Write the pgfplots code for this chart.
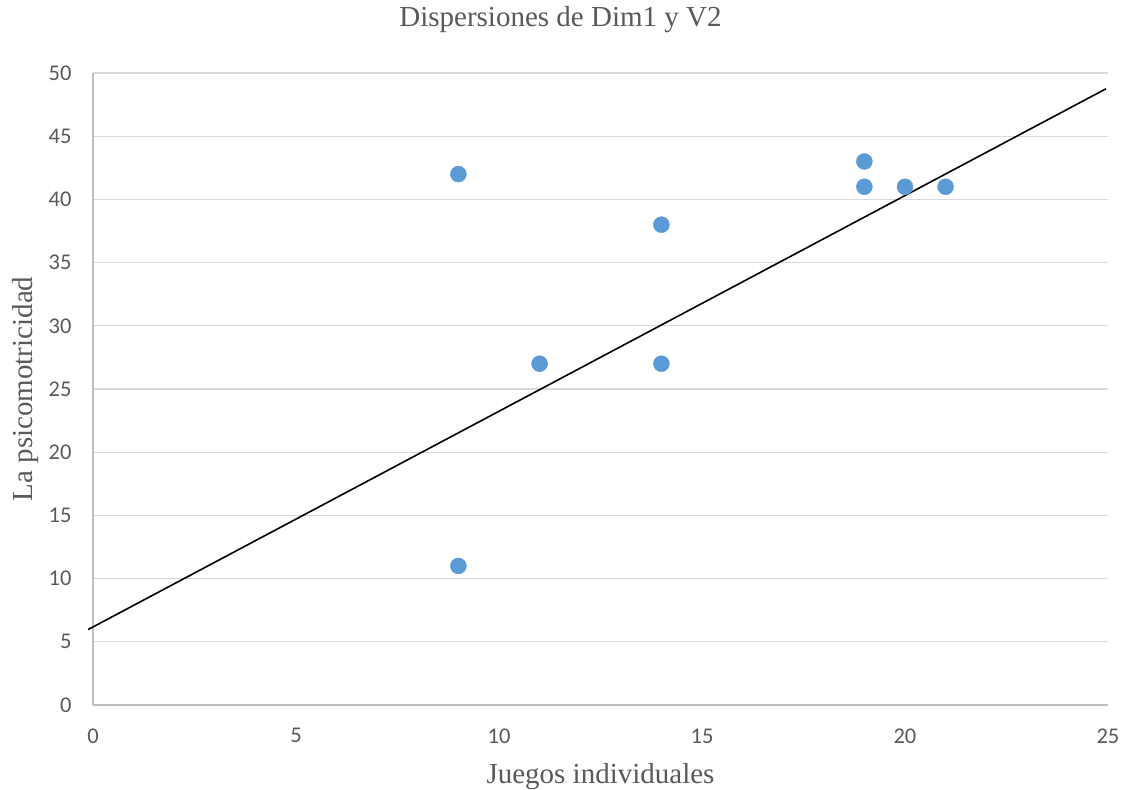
\documentclass[border=0pt]{standalone}
\usepackage{pgfplots}
\pgfplotsset{compat=1.18}
\usepackage{fontspec}
\setmainfont{Liberation Serif}
\newfontfamily\carlito{Carlito}
\definecolor{txt}{HTML}{595959}
\definecolor{grd}{HTML}{D9D9D9}
\definecolor{axl}{HTML}{BFBFBF}
\definecolor{pt}{HTML}{5B9BD5}
\begin{document}
\begin{tikzpicture}[x=1pt,y=1pt]
\useasboundingbox (0,0) rectangle (1131,789);
\begin{axis}[
  at={(93pt,84pt)}, anchor=origin,
  scale only axis, width=1015pt, height=632pt,
  xmin=0, xmax=25, ymin=0, ymax=50,
  xtick={0,5,...,25}, ytick={0,5,...,50},
  ymajorgrids, grid style={grd, line width=1.3pt},
  axis x line*=bottom, axis y line*=left,
  axis line style={axl, line width=1.3pt, -},
  tick style={draw=none},
  ticklabel style={font=\carlito\fontsize{22.5}{26}\selectfont, text=txt},
  /pgf/number format/assume math mode=true,
  xticklabel style={yshift=-20pt},
  yticklabel style={xshift=-18pt},
  title={Dispersiones de Dim1 y V2},
  title style={font=\fontsize{29}{33}\selectfont, text=txt, at={(rel axis cs:0.5,1)}, anchor=center, yshift=47pt, xshift=-40pt},
  xlabel={Juegos individuales},
  xlabel style={font=\fontsize{29}{33}\selectfont, text=txt, at={(rel axis cs:0.5,0)}, anchor=center, yshift=-72pt},
  ylabel={La psicomotricidad},
  ylabel style={font=\fontsize{29}{33}\selectfont, text=txt, at={(rel axis cs:0,0.5)}, anchor=center, yshift=67pt},
  clip=false,
]
\addplot[only marks, mark=*, mark size=8pt, mark options={draw=pt, fill=pt}] coordinates {
(9,42) (9,11) (11,27) (14,38) (14,27) (19,43) (19,41) (20,41) (21,41)
};
\addplot[black, line width=1.6pt] coordinates {(-0.12,5.97) (24.95,48.75)};
\end{axis}
\end{tikzpicture}
\end{document}
